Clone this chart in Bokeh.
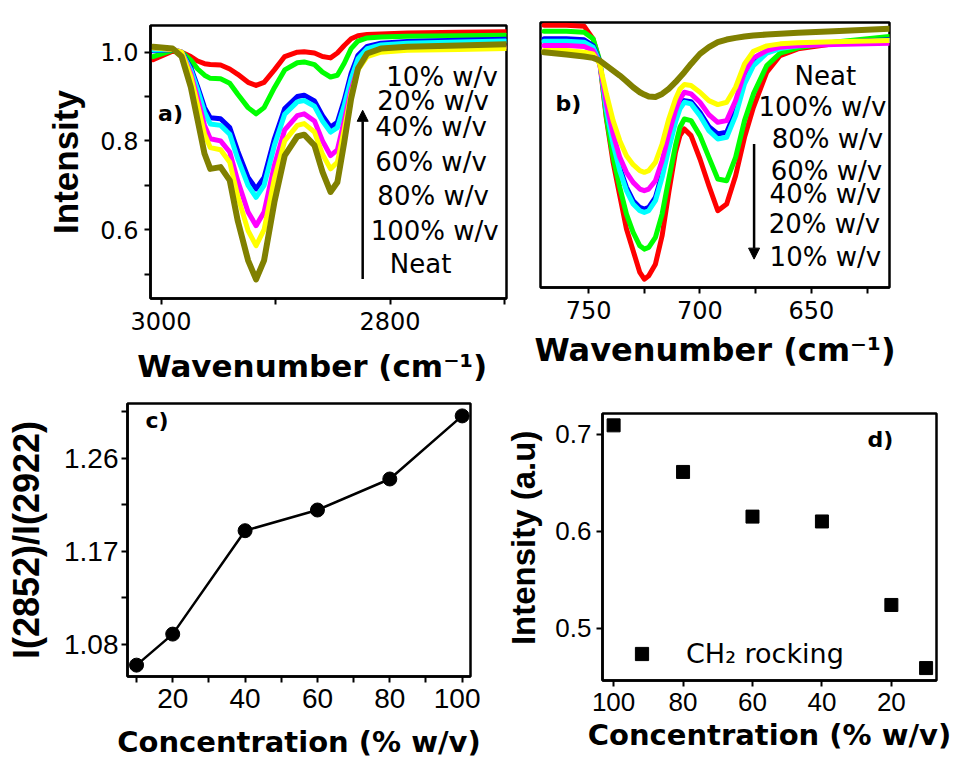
from bokeh.plotting import figure
from bokeh.layouts import column, row
from bokeh.models import (Range1d, FixedTicker, Label, Arrow, NormalHead,
                          Legend, LegendItem)
from bokeh.embed import file_html
from bokeh.resources import INLINE

# ---------------- (a) C-H stretching region ----------------
wn_ch = [3007, 2990, 2982, 2974, 2968, 2962, 2957, 2948, 2940, 2933, 2924,
         2917, 2910, 2901, 2892, 2881, 2875, 2866, 2859, 2852, 2846, 2840,
         2834, 2828, 2820, 2808, 2785, 2740, 2699]
ch_10 = [0.983, 1.002, 1.000, 0.990, 0.980, 0.974, 0.972, 0.971, 0.962, 0.950,
         0.932, 0.925, 0.932, 0.960, 0.990, 1.000, 1.001, 0.998, 0.990, 0.987,
         0.998, 1.015, 1.030, 1.037, 1.040, 1.041, 1.043, 1.045, 1.046]
ch_20 = [0.990, 1.004, 1.000, 0.982, 0.962, 0.948, 0.941, 0.940, 0.930, 0.905,
         0.875, 0.861, 0.875, 0.920, 0.960, 0.976, 0.978, 0.972, 0.955, 0.944,
         0.948, 0.975, 1.008, 1.025, 1.032, 1.034, 1.036, 1.037, 1.038]
ch_40 = [1.003, 1.006, 1.000, 0.965, 0.922, 0.875, 0.852, 0.850, 0.830, 0.777,
         0.718, 0.692, 0.718, 0.805, 0.873, 0.900, 0.903, 0.890, 0.857, 0.831,
         0.842, 0.892, 0.952, 0.993, 1.013, 1.020, 1.024, 1.027, 1.029]
ch_60 = [1.005, 1.006, 1.000, 0.960, 0.915, 0.865, 0.838, 0.835, 0.815, 0.760,
         0.700, 0.673, 0.700, 0.790, 0.860, 0.888, 0.891, 0.878, 0.845, 0.820,
         0.830, 0.880, 0.940, 0.985, 1.008, 1.016, 1.020, 1.023, 1.025]
ch_80 = [1.010, 1.006, 1.000, 0.952, 0.895, 0.835, 0.805, 0.800, 0.775, 0.710,
         0.640, 0.609, 0.640, 0.745, 0.825, 0.857, 0.861, 0.845, 0.800, 0.767,
         0.780, 0.845, 0.915, 0.965, 0.993, 1.003, 1.007, 1.010, 1.012]
ch_100 = [1.010, 1.006, 1.000, 0.945, 0.880, 0.815, 0.785, 0.780, 0.752, 0.675,
          0.598, 0.564, 0.600, 0.715, 0.800, 0.835, 0.839, 0.820, 0.770, 0.737,
          0.752, 0.825, 0.905, 0.960, 0.990, 1.000, 1.004, 1.006, 1.008]
ch_neat = [1.012, 1.008, 0.990, 0.921, 0.846, 0.771, 0.737, 0.741, 0.711, 0.620,
           0.531, 0.488, 0.531, 0.662, 0.767, 0.810, 0.814, 0.790, 0.730, 0.685,
           0.707, 0.797, 0.895, 0.963, 0.997, 1.008, 1.012, 1.015, 1.018]

# ---------------- (b) CH2 rocking region ----------------
wn_rock = [770, 760, 752, 748, 745, 742, 739, 736, 733, 730, 727, 725, 723, 720,
           717, 714, 711, 709, 707, 704, 700, 696, 692, 688, 684, 680, 676, 670,
           664, 656, 640, 615]
rk_10 = [0.996, 0.996, 0.993, 0.955, 0.885, 0.715, 0.585, 0.485, 0.385, 0.320,
         0.255, 0.235, 0.245, 0.280, 0.365, 0.495, 0.615, 0.665, 0.685, 0.665,
         0.595, 0.515, 0.440, 0.460, 0.545, 0.660, 0.750, 0.855, 0.905, 0.925,
         0.940, 0.955]
rk_20 = [0.978, 0.978, 0.975, 0.955, 0.890, 0.720, 0.600, 0.510, 0.430, 0.375,
         0.335, 0.325, 0.330, 0.360, 0.430, 0.535, 0.635, 0.690, 0.715, 0.710,
         0.665, 0.600, 0.535, 0.530, 0.600, 0.710, 0.790, 0.875, 0.912, 0.928,
         0.945, 0.962]
rk_40 = [0.955, 0.955, 0.952, 0.935, 0.888, 0.745, 0.648, 0.568, 0.510, 0.470,
         0.450, 0.445, 0.450, 0.480, 0.550, 0.635, 0.712, 0.752, 0.770, 0.767,
         0.735, 0.692, 0.670, 0.675, 0.738, 0.830, 0.882, 0.916, 0.929, 0.937,
         0.944, 0.952]
rk_60 = [0.948, 0.948, 0.945, 0.930, 0.885, 0.740, 0.640, 0.560, 0.500, 0.460,
         0.440, 0.435, 0.440, 0.470, 0.540, 0.625, 0.705, 0.745, 0.765, 0.760,
         0.725, 0.680, 0.655, 0.660, 0.725, 0.820, 0.875, 0.912, 0.926, 0.934,
         0.942, 0.950]
rk_80 = [0.935, 0.935, 0.932, 0.920, 0.880, 0.760, 0.670, 0.600, 0.555, 0.525,
         0.505, 0.500, 0.505, 0.530, 0.590, 0.670, 0.740, 0.775, 0.795, 0.790,
         0.765, 0.728, 0.705, 0.710, 0.770, 0.855, 0.898, 0.920, 0.930, 0.934,
         0.938, 0.942]
rk_100 = [0.920, 0.920, 0.915, 0.910, 0.880, 0.790, 0.710, 0.650, 0.605, 0.578,
          0.560, 0.555, 0.560, 0.585, 0.640, 0.715, 0.775, 0.805, 0.818, 0.815,
          0.795, 0.770, 0.758, 0.765, 0.810, 0.880, 0.918, 0.934, 0.940, 0.943,
          0.946, 0.950]
rk_neat = [0.915, 0.908, 0.902, 0.898, 0.890, 0.875, 0.860, 0.845, 0.828, 0.810,
           0.795, 0.788, 0.782, 0.781, 0.790, 0.805, 0.825, 0.840, 0.855, 0.880,
           0.910, 0.930, 0.945, 0.953, 0.958, 0.962, 0.965, 0.968, 0.970, 0.973,
           0.978, 0.985]

series_names = ["10% w/v", "20% w/v", "40% w/v", "60% w/v", "80% w/v", "100% w/v", "Neat"]
series_colors = ["#ff0000", "#00ff00", "#0000ff", "#00ffff", "#ff00ff", "#ffff00", "#808000"]

# ---------------- (c) band intensity ratio ----------------
conc_c = [10, 20, 40, 60, 80, 100]
ratio_c = [1.060, 1.090, 1.190, 1.210, 1.240, 1.301]

# ---------------- (d) CH2 rocking intensity ----------------
conc_d = [100, 80, 60, 40, 20, 10]
rock_int = [0.709, 0.661, 0.615, 0.610, 0.524, 0.459]

# tick positions and their labels
a_xticks, a_xminor = [3000, 2800], [2900, 2700]
a_yticks, a_yminor = [0.6, 0.8, 1.0], [0.5, 0.7, 0.9]
a_ylabels = ["0.6", "0.8", "1.0"]
b_xticks, b_xminor = [750, 700, 650], [725, 675, 625]
c_xticks, c_xminor = [20, 40, 60, 80, 100], [10, 30, 50, 70, 90]
c_yticks, c_yminor = [1.08, 1.17, 1.26], [1.125, 1.215, 1.305]
c_ylabels = ["1.08", "1.17", "1.26"]
d_xticks = [100, 80, 60, 40, 20]
d_yticks = [0.5, 0.6, 0.7]
d_ylabels = ["0.5", "0.6", "0.7"]

NB = "\u00a0"
WAVENUMBER = "Wavenumber (cm\u207b\u00b9)"
CONCENTRATION = "Concentration (% w/v)"


def base_fig(w, h, xr, yr, left, right, top, bottom):
    p = figure(width=w, height=h, x_range=xr, y_range=yr,
               output_backend="svg", toolbar_location=None,
               min_border_left=left, min_border_right=right,
               min_border_top=top, min_border_bottom=bottom)
    p.grid.visible = False
    p.outline_line_color = "black"
    p.outline_line_width = 2.5
    p.outline_line_alpha = 1.0
    p.background_fill_color = "white"
    p.border_fill_color = "white"
    return p


def style_axis(ax, tick_font, tick_size, label_standoff,
               label_font, label_size, title_standoff):
    ax.axis_line_width = 2.5
    ax.axis_line_color = "black"
    ax.major_tick_line_width = 2
    ax.minor_tick_line_width = 2
    ax.major_tick_in = 0
    ax.major_tick_out = 6
    ax.minor_tick_in = 0
    ax.minor_tick_out = 6
    ax.major_label_text_font = tick_font
    ax.major_label_text_font_size = tick_size
    ax.major_label_text_color = "black"
    ax.major_label_standoff = label_standoff
    ax.axis_label_text_font = label_font
    ax.axis_label_text_font_size = label_size
    ax.axis_label_text_font_style = "bold"
    ax.axis_label_text_color = "black"
    ax.axis_label_standoff = title_standoff


def note(p, x, y, text, size="26px", bold=False, align="center"):
    p.add_layout(Label(x=x, y=y, text=text, text_font="DejaVu Sans",
                       text_font_size=size,
                       text_font_style="bold" if bold else "normal",
                       text_align=align, text_baseline="middle",
                       text_color="black"))


# ===== panel (a) =====
pa = base_fig(525, 390, Range1d(3009.2, 2698.3), Range1d(0.445, 1.060),
              150, 19, 25, 92)
ch_series = [ch_10, ch_20, ch_40, ch_60, ch_80, ch_100, ch_neat]
for ys, col in zip(ch_series, series_colors):
    pa.line(wn_ch, ys, line_color=col, line_width=6 if col == "#808000" else 5,
            line_join="round", line_cap="round")
pa.xaxis.ticker = FixedTicker(ticks=a_xticks, minor_ticks=a_xminor)
pa.yaxis.ticker = FixedTicker(ticks=a_yticks, minor_ticks=a_yminor)
pa.yaxis.major_label_overrides = dict(zip(a_yticks, a_ylabels))
pa.xaxis.major_label_overrides = {t: str(t) for t in a_xticks}
style_axis(pa.xaxis[0], "DejaVu Sans", "24px", 7, "DejaVu Sans", "31px", 15)
style_axis(pa.yaxis[0], "DejaVu Sans", "24px", 6, "Liberation Sans", "35px", 12)
pa.xaxis.axis_label = WAVENUMBER + NB * 3
pa.yaxis.axis_label = "Intensity"

a_label_pos = [(2754.6, 0.944), (2762.4, 0.889), (2764.2, 0.831), (2764.2, 0.752),
               (2762.4, 0.677), (2761.0, 0.598), (2773.3, 0.523)]
for (x, y), t in zip(a_label_pos, series_names):
    note(pa, x, y, t)
note(pa, 3002.6, 0.862, "a)", size="22px", bold=True, align="left")
pa.add_layout(Arrow(end=NormalHead(size=11, fill_color="black", line_color="black"),
                    x_start=2823.9, y_start=0.489, x_end=2823.9, y_end=0.869,
                    line_width=2.5, line_color="black"))

# ===== panel (b) =====
pb = base_fig(429, 390, Range1d(771.6, 614.9), Range1d(0.21, 1.004),
              15, 65, 22, 103)
rk_series = [rk_10, rk_20, rk_40, rk_60, rk_80, rk_100, rk_neat]
for ys, col in zip(rk_series, series_colors):
    pb.line(wn_rock, ys, line_color=col, line_width=6 if col == "#808000" else 5,
            line_join="round", line_cap="round")
pb.xaxis.ticker = FixedTicker(ticks=b_xticks, minor_ticks=b_xminor)
pb.xaxis.major_label_overrides = {t: str(t) for t in b_xticks}
style_axis(pb.xaxis[0], "DejaVu Sans", "24px", 7, "DejaVu Sans", "32px", 9)
pb.xaxis.axis_label = WAVENUMBER
pb.yaxis.visible = False

b_label_pos = [(643.7, 0.845), (645.0, 0.750), (642.8, 0.655), (643.2, 0.560),
               (643.7, 0.490), (644.1, 0.400), (643.7, 0.300)]
for (x, y), t in zip(b_label_pos, series_names[::-1]):
    note(pb, x, y, t)
note(pb, 764.9, 0.761, "b)", size="22px", bold=True, align="left")
pb.add_layout(Arrow(end=NormalHead(size=11, fill_color="black", line_color="black"),
                    x_start=675.7, y_start=0.640, x_end=675.7, y_end=0.295,
                    line_width=2.5, line_color="black"))

# ===== panel (c) =====
pc = base_fig(480, 371, Range1d(7.5, 102.3), Range1d(1.049, 1.313),
              127, 10, 13, 83)
pc.line(conc_c, ratio_c, line_color="black", line_width=2.5)
pc.scatter(conc_c, ratio_c, size=14, marker="circle", fill_color="black",
           line_color="black")
pc.xaxis.ticker = FixedTicker(ticks=c_xticks, minor_ticks=c_xminor)
pc.yaxis.ticker = FixedTicker(ticks=c_yticks, minor_ticks=c_yminor)
pc.xaxis.major_label_overrides = {t: str(t) for t in c_xticks}
pc.yaxis.major_label_overrides = dict(zip(c_yticks, c_ylabels))
style_axis(pc.xaxis[0], "Liberation Sans", "28px", 6, "DejaVu Sans", "29px", 14)
style_axis(pc.yaxis[0], "Liberation Sans", "28px", 3, "Liberation Sans", "36px", 14)
pc.xaxis.axis_label = CONCENTRATION
pc.yaxis.axis_label = "I(2852)/I(2922)"
note(pc, 12.45, 1.2968, "c)", size="22px", bold=True, align="left")

# ===== panel (d) =====
pd_ = base_fig(474, 371, Range1d(103.2, 7.0), Range1d(0.4462, 0.7212),
               122, 18, 23, 81)
rk = pd_.scatter(conc_d, rock_int, size=13, marker="square",
                 fill_color="black", line_color="black")
pd_.xaxis.ticker = FixedTicker(ticks=d_xticks, minor_ticks=[])
pd_.yaxis.ticker = FixedTicker(ticks=d_yticks, minor_ticks=[])
pd_.xaxis.major_label_overrides = {t: str(t) for t in d_xticks}
pd_.yaxis.major_label_overrides = dict(zip(d_yticks, d_ylabels))
style_axis(pd_.xaxis[0], "Liberation Sans", "26px", 6, "DejaVu Sans", "29px", 4)
style_axis(pd_.yaxis[0], "Liberation Sans", "26px", 5, "Liberation Sans", "33px", 10)
pd_.xaxis.axis_label = CONCENTRATION
pd_.yaxis.axis_label = NB * 2 + "Intensity (a.u)"
note(pd_, 26.9, 0.6947, "d)", size="22px", bold=True, align="left")

leg = Legend(items=[LegendItem(label="CH\u2082 rocking", renderers=[rk])],
             location=(23, 10), padding=0, margin=0, spacing=0,
             glyph_width=33, glyph_height=33, label_standoff=28,
             label_text_font="DejaVu Sans", label_text_font_size="27px",
             label_text_color="black", border_line_alpha=0,
             background_fill_alpha=0)
pd_.add_layout(leg)

# each panel sits in its own column so its frame keeps its own borders
layout = column(row(column(pa), column(pb), spacing=0),
                row(column(pc), column(pd_), spacing=0), spacing=0)
open("out.html", "w").write(file_html(layout, INLINE))
